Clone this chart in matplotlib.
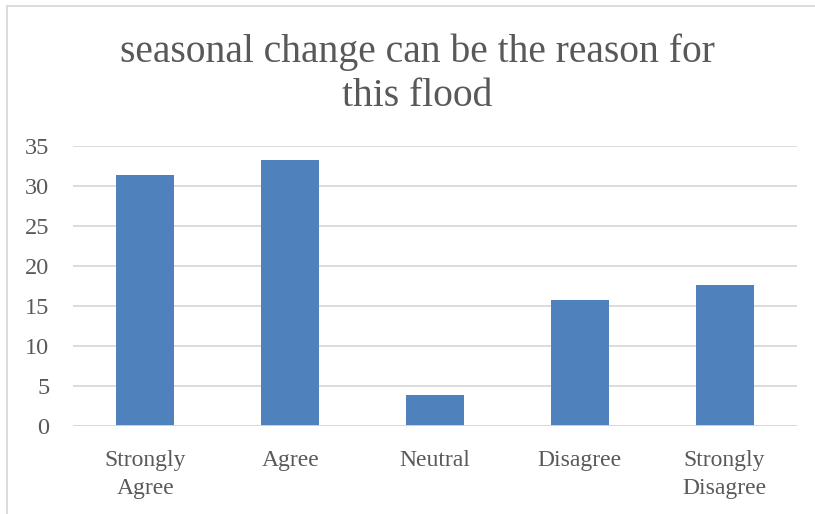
import matplotlib
matplotlib.use("Agg")
import matplotlib.pyplot as plt
from matplotlib.lines import Line2D

categories = ["Strongly\nAgree", "Agree", "Neutral", "Disagree", "Strongly\nDisagree"]
values = [31.4, 33.3, 3.9, 15.7, 17.6]
yticks = [0, 5, 10, 15, 20, 25, 30, 35]
title = "seasonal change can be the reason for\nthis flood"

text_color = "#595959"
grid_color = "#d9d9d9"
bar_color = "#4f81bd"
font = ["Liberation Serif", "DejaVu Serif"]

W, H = 815, 514
fig = plt.figure(figsize=(W / 100, H / 100), dpi=100)
fig.patch.set_facecolor("white")

# plot area in pixel coordinates
left, right, top, bottom = 73, 797, 146, 426
ax = fig.add_axes([left / W, 1 - bottom / H, (right - left) / W, (bottom - top) / H])

x = range(len(categories))
ax.bar(x, values, width=0.4, color=bar_color, zorder=3)
ax.set_xlim(-0.5, len(categories) - 0.5)
ax.set_ylim(0, 35)
ax.set_yticks(yticks)
ax.set_xticks(list(x))
ax.set_xticklabels(categories, fontfamily=font, fontsize=17, color=text_color,
                   linespacing=1.45)
ax.set_yticklabels([str(t) for t in yticks], fontfamily=font, fontsize=17.5,
                   color=text_color)
ax.tick_params(axis="both", length=0)
ax.tick_params(axis="y", pad=17)
ax.tick_params(axis="x", pad=17)
ax.grid(axis="y", color=grid_color, linewidth=1.3, zorder=0)
for s in ax.spines.values():
    s.set_visible(False)
ax.axhline(0, color=grid_color, linewidth=1.3, zorder=4)

fig.text(417 / W, 1 - 74 / H, title, ha="center", va="center",
         fontfamily=font, fontsize=28.5, color=text_color, linespacing=1.25)

# chart frame edges
fig.add_artist(Line2D([6.5 / W, 6.5 / W], [0, 1 - 5.5 / H], transform=fig.transFigure,
                      color=grid_color, linewidth=1.3))
fig.add_artist(Line2D([6.5 / W, 1], [1 - 5.5 / H, 1 - 5.5 / H], transform=fig.transFigure,
                      color=grid_color, linewidth=1.3))

fig.savefig("out.png", dpi=100, facecolor="white")
